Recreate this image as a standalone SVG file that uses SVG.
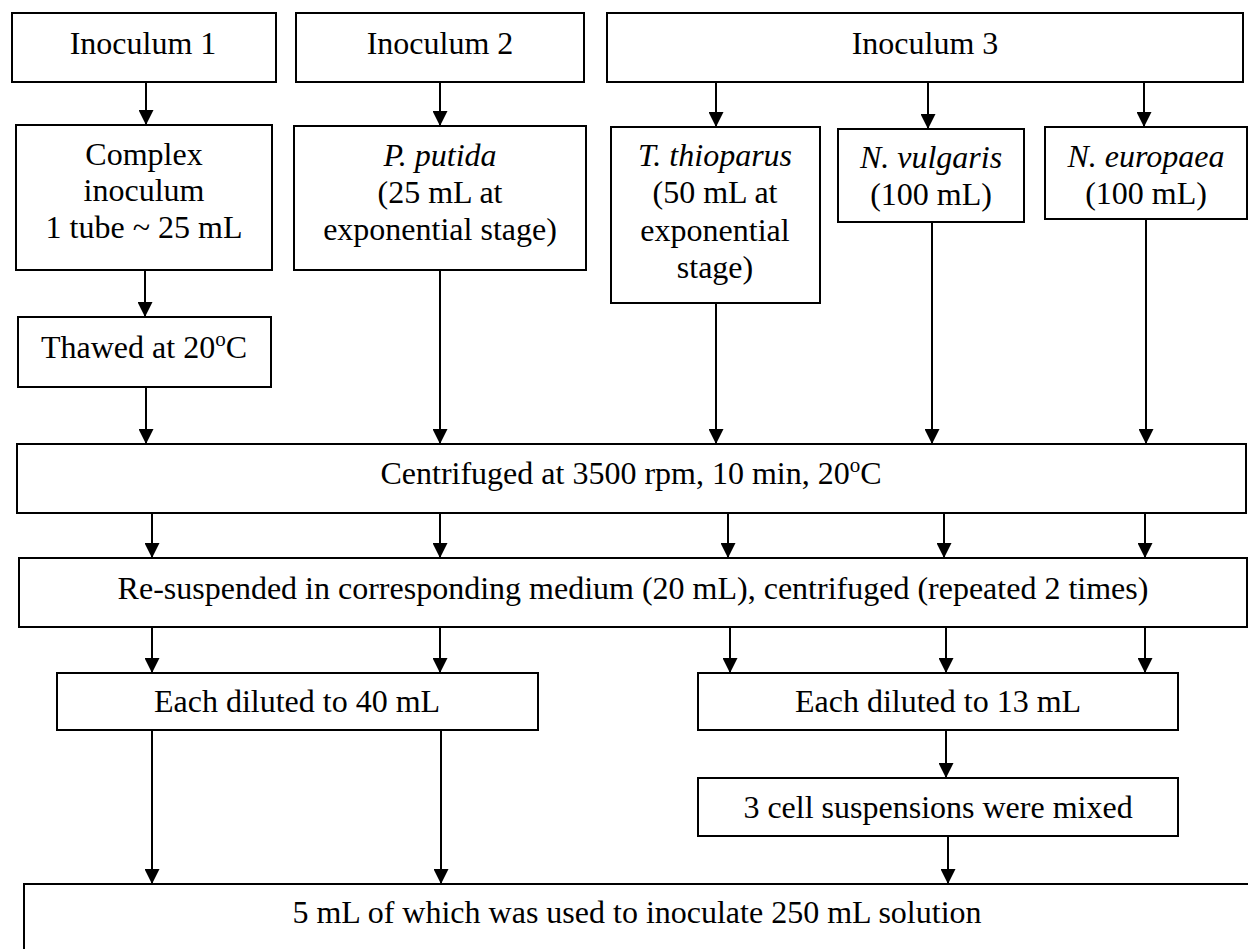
<svg xmlns="http://www.w3.org/2000/svg" width="1248" height="949" viewBox="0 0 1248 949">
<defs>
<style>
.box{fill:#fff;stroke:#000;stroke-width:2}
.t{font-family:"Liberation Serif","Times New Roman",serif;font-size:32px;fill:#000;text-anchor:middle}
.i{font-style:italic}
.c{stroke:#000;stroke-width:2;fill:none}
</style>
<marker id="ah" markerUnits="userSpaceOnUse" markerWidth="15" markerHeight="15" refX="15" refY="7.5" orient="auto">
<path d="M0,0 L15,7.5 L0,15 Z" fill="#000"/>
</marker>
</defs>
<rect width="1248" height="949" fill="#fff"/>
<g id="connectors">
<line class="c" x1="146" y1="82" x2="146" y2="125" marker-end="url(#ah)"/>
<line class="c" x1="440" y1="82" x2="440" y2="126" marker-end="url(#ah)"/>
<line class="c" x1="716" y1="82" x2="716" y2="127" marker-end="url(#ah)"/>
<line class="c" x1="928" y1="82" x2="928" y2="129" marker-end="url(#ah)"/>
<line class="c" x1="1144" y1="82" x2="1144" y2="127" marker-end="url(#ah)"/>
<line class="c" x1="145" y1="270" x2="145" y2="317" marker-end="url(#ah)"/>
<line class="c" x1="146" y1="387" x2="146" y2="444" marker-end="url(#ah)"/>
<line class="c" x1="440" y1="270" x2="440" y2="444" marker-end="url(#ah)"/>
<line class="c" x1="716" y1="303" x2="716" y2="444" marker-end="url(#ah)"/>
<line class="c" x1="932" y1="222" x2="932" y2="444" marker-end="url(#ah)"/>
<line class="c" x1="1146" y1="219" x2="1146" y2="444" marker-end="url(#ah)"/>
<line class="c" x1="152" y1="513" x2="152" y2="558" marker-end="url(#ah)"/>
<line class="c" x1="440" y1="513" x2="440" y2="558" marker-end="url(#ah)"/>
<line class="c" x1="728" y1="513" x2="728" y2="558" marker-end="url(#ah)"/>
<line class="c" x1="944" y1="513" x2="944" y2="558" marker-end="url(#ah)"/>
<line class="c" x1="1145" y1="513" x2="1145" y2="558" marker-end="url(#ah)"/>
<line class="c" x1="152" y1="627" x2="152" y2="673" marker-end="url(#ah)"/>
<line class="c" x1="440" y1="627" x2="440" y2="673" marker-end="url(#ah)"/>
<line class="c" x1="730" y1="627" x2="730" y2="673" marker-end="url(#ah)"/>
<line class="c" x1="946" y1="627" x2="946" y2="673" marker-end="url(#ah)"/>
<line class="c" x1="1145" y1="627" x2="1145" y2="673" marker-end="url(#ah)"/>
<line class="c" x1="152" y1="730" x2="152" y2="884" marker-end="url(#ah)"/>
<line class="c" x1="441" y1="730" x2="441" y2="884" marker-end="url(#ah)"/>
<line class="c" x1="946" y1="730" x2="946" y2="778" marker-end="url(#ah)"/>
<line class="c" x1="948" y1="836" x2="948" y2="884" marker-end="url(#ah)"/>
</g>
<g id="inoculum1">
<rect class="box" x="12" y="13" width="264" height="69"/>
<text class="t" x="143" y="54">Inoculum 1</text>
</g>
<g id="inoculum2">
<rect class="box" x="296" y="13" width="288" height="69"/>
<text class="t" x="440" y="54">Inoculum 2</text>
</g>
<g id="inoculum3">
<rect class="box" x="607" y="13" width="636" height="69"/>
<text class="t" x="925" y="54">Inoculum 3</text>
</g>
<g id="complex">
<rect class="box" x="16" y="125" width="256" height="145"/>
<text class="t" x="144" y="165">Complex</text>
<text class="t" x="144" y="201">inoculum</text>
<text class="t" x="144" y="238">1 tube ~ 25 mL</text>
</g>
<g id="putida">
<rect class="box" x="294" y="126" width="292" height="144"/>
<text class="t" x="440" y="166"><tspan class="i">P. putida</tspan></text>
<text class="t" x="440" y="203">(25 mL at</text>
<text class="t" x="440" y="240">exponential stage)</text>
</g>
<g id="thioparus">
<rect class="box" x="611" y="127" width="209" height="176"/>
<text class="t" x="715" y="166"><tspan class="i">T. thioparus</tspan></text>
<text class="t" x="715" y="203">(50 mL at</text>
<text class="t" x="715" y="241">exponential</text>
<text class="t" x="715" y="278">stage)</text>
</g>
<g id="vulgaris">
<rect class="box" x="838" y="129" width="186" height="93"/>
<text class="t" x="931" y="168"><tspan class="i">N. vulgaris</tspan></text>
<text class="t" x="931" y="205">(100 mL)</text>
</g>
<g id="europaea">
<rect class="box" x="1045" y="127" width="202" height="92"/>
<text class="t" x="1146" y="167"><tspan class="i">N. europaea</tspan></text>
<text class="t" x="1146" y="204">(100 mL)</text>
</g>
<g id="thawed">
<rect class="box" x="18" y="317" width="253" height="70"/>
<text class="t" x="144" y="358">Thawed at 20<tspan font-size="21" dy="-12">o</tspan><tspan dy="12">C</tspan></text>
</g>
<g id="centrifuged">
<rect class="box" x="17" y="444" width="1229" height="69"/>
<text class="t" x="631" y="484">Centrifuged at 3500 rpm, 10 min, 20<tspan font-size="21" dy="-12">o</tspan><tspan dy="12">C</tspan></text>
</g>
<g id="resuspended">
<rect class="box" x="19" y="558" width="1228" height="69"/>
<text class="t" x="633" y="599">Re-suspended in corresponding medium (20 mL), centrifuged (repeated 2 times)</text>
</g>
<g id="dilute40">
<rect class="box" x="57" y="673" width="481" height="57"/>
<text class="t" x="297" y="712">Each diluted to 40 mL</text>
</g>
<g id="dilute13">
<rect class="box" x="698" y="673" width="480" height="57"/>
<text class="t" x="938" y="712">Each diluted to 13 mL</text>
</g>
<g id="mixed">
<rect class="box" x="698" y="778" width="480" height="58"/>
<text class="t" x="938" y="818">3 cell suspensions were mixed</text>
</g>
<g id="final">
<rect class="box" x="24" y="884" width="1240" height="80"/>
<text class="t" x="637" y="923">5 mL of which was used to inoculate 250 mL solution</text>
</g>
</svg>
